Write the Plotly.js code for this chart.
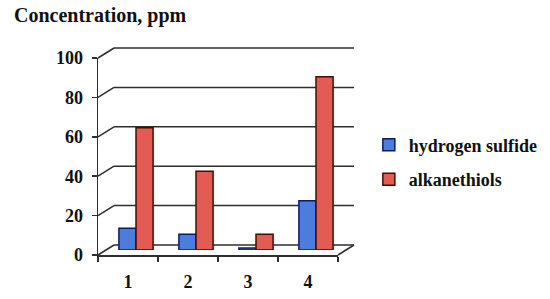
<!DOCTYPE html>
<html>
<head>
<meta charset="utf-8">
<script src="https://cdn.plot.ly/plotly-3.0.1.min.js"></script>
<style>
  html, body { margin: 0; padding: 0; background: #ffffff; }
  #chart { width: 550px; height: 299px; }
</style>
</head>
<body>
<div id="chart"></div>
<script>
// ---- data ----
const categories = ['1', '2', '3', '4'];
const hydrogenSulfide = [11, 8, 1, 25];
const alkanethiols = [62, 40, 8, 88];
const seriesNames = ['hydrogen sulfide', 'alkanethiols'];
const yTickValues = [0, 20, 40, 60, 80, 100];
const yRange = [0, 100];
const titleText = 'Concentration, ppm';

// ---- styling / geometry ----
const FONT = 'Liberation Serif, "Times New Roman", serif';
const INK = '#111111';
const LINE = '#2e2e2e';
const depthX = 16;   // pseudo-3D depth offset in pixels
const depthY = 10;
const plotW = 256, plotH = 207;   // whole plotting box incl. depth
const frontW = plotW - depthX, frontH = plotH - depthY;
const dxP = depthX / plotW, dyP = depthY / plotH;       // depth in paper units
const frontXP = frontW / plotW, frontYP = frontH / plotH; // front plane size in paper units

const tickFont = { family: FONT, size: 18, color: INK, weight: 700 };

const traces = [
  {
    type: 'bar', name: seriesNames[0], x: categories, y: hydrogenSulfide,
    xaxis: 'x3', yaxis: 'y3', legendgroup: 'a',
    marker: { color: '#4a7ddc', line: { color: '#0d1c5e', width: 1.5 } },
    hoverinfo: 'skip'
  },
  {
    type: 'bar', name: seriesNames[1], x: categories, y: alkanethiols,
    xaxis: 'x3', yaxis: 'y3', legendgroup: 'b',
    marker: { color: '#e35b52', line: { color: '#4a0a05', width: 1.5 } },
    hoverinfo: 'skip'
  },
  // empty trace so the front (labelled) axes get their subplot
  { type: 'scatter', x: [], y: [], xaxis: 'x', yaxis: 'y', showlegend: false, hoverinfo: 'skip' }
];

const catAxis = {
  type: 'category', categoryorder: 'array', categoryarray: categories,
  range: [-0.5, categories.length - 0.5], fixedrange: true
};

// pseudo-3D frame: back-wall gridlines, connectors from front axis ticks, right floor edge
const frac = v => (v - yRange[0]) / (yRange[1] - yRange[0]);
const lineStyle = { color: LINE, width: 1.5 };
const shapes = [];
yTickValues.forEach(v => {
  const yf = frac(v) * frontYP;
  shapes.push({ type: 'line', xref: 'paper', yref: 'paper', layer: 'below',
    x0: dxP, x1: 1, y0: yf + dyP, y1: yf + dyP, line: lineStyle });
  shapes.push({ type: 'line', xref: 'paper', yref: 'paper', layer: 'below',
    x0: 0, x1: dxP, y0: yf, y1: yf + dyP, line: lineStyle });
});
shapes.push({ type: 'line', xref: 'paper', yref: 'paper', layer: 'below',
  x0: frontXP, x1: 1, y0: 0, y1: dyP, line: lineStyle });

const layout = {
  width: 550, height: 299,
  margin: { l: 98, r: 550 - 98 - plotW, t: 48, b: 299 - 48 - plotH, pad: 0, autoexpand: false },
  paper_bgcolor: '#ffffff', plot_bgcolor: 'rgba(0,0,0,0)',
  barmode: 'group', bargap: 0.43, bargroupgap: 0,
  showlegend: true,
  title: {
    text: titleText, xref: 'container', x: 14 / 550, xanchor: 'left',
    yref: 'container', y: 1 - 8 / 299, yanchor: 'top',
    font: { family: FONT, size: 20, color: INK, weight: 700 }
  },
  // front axes (labels, ticks, axis lines)
  xaxis: Object.assign({}, catAxis, {
    domain: [0, frontXP], anchor: 'y',
    showline: true, linecolor: LINE, linewidth: 1.5,
    ticks: 'outside', tickson: 'boundaries', ticklen: 5, tickwidth: 1.5, tickcolor: LINE,
    showgrid: false, zeroline: false, tickfont: tickFont, ticklabelstandoff: 10
  }),
  yaxis: {
    domain: [0, frontYP], anchor: 'x', range: yRange, fixedrange: true,
    tickmode: 'array', tickvals: yTickValues,
    showline: true, linecolor: LINE, linewidth: 1.5,
    ticks: 'outside', ticklen: 5, tickwidth: 1.5, tickcolor: LINE,
    showgrid: false, zeroline: false, tickfont: tickFont, ticklabelstandoff: 5
  },
  // mid-depth plane (bars)
  xaxis3: Object.assign({}, catAxis, {
    domain: [dxP / 2, 1 - dxP / 2], anchor: 'y3',
    showline: false, showgrid: false, zeroline: false, showticklabels: false, ticks: ''
  }),
  yaxis3: {
    domain: [dyP / 2, 1 - dyP / 2], anchor: 'x3', range: yRange, fixedrange: true,
    showline: false, showgrid: false, zeroline: false, showticklabels: false, ticks: ''
  },
  legend: {
    x: 1.058, xanchor: 'left', y: 0.62, yanchor: 'top',
    bgcolor: 'rgba(0,0,0,0)', borderwidth: 0,
    font: { family: FONT, size: 18, color: INK, weight: 700 },
    traceorder: 'grouped', tracegroupgap: 8, itemwidth: 30
  },
  shapes: shapes
};

Plotly.newPlot('chart', traces, layout, { staticPlot: true, displayModeBar: false });
</script>
</body>
</html>
